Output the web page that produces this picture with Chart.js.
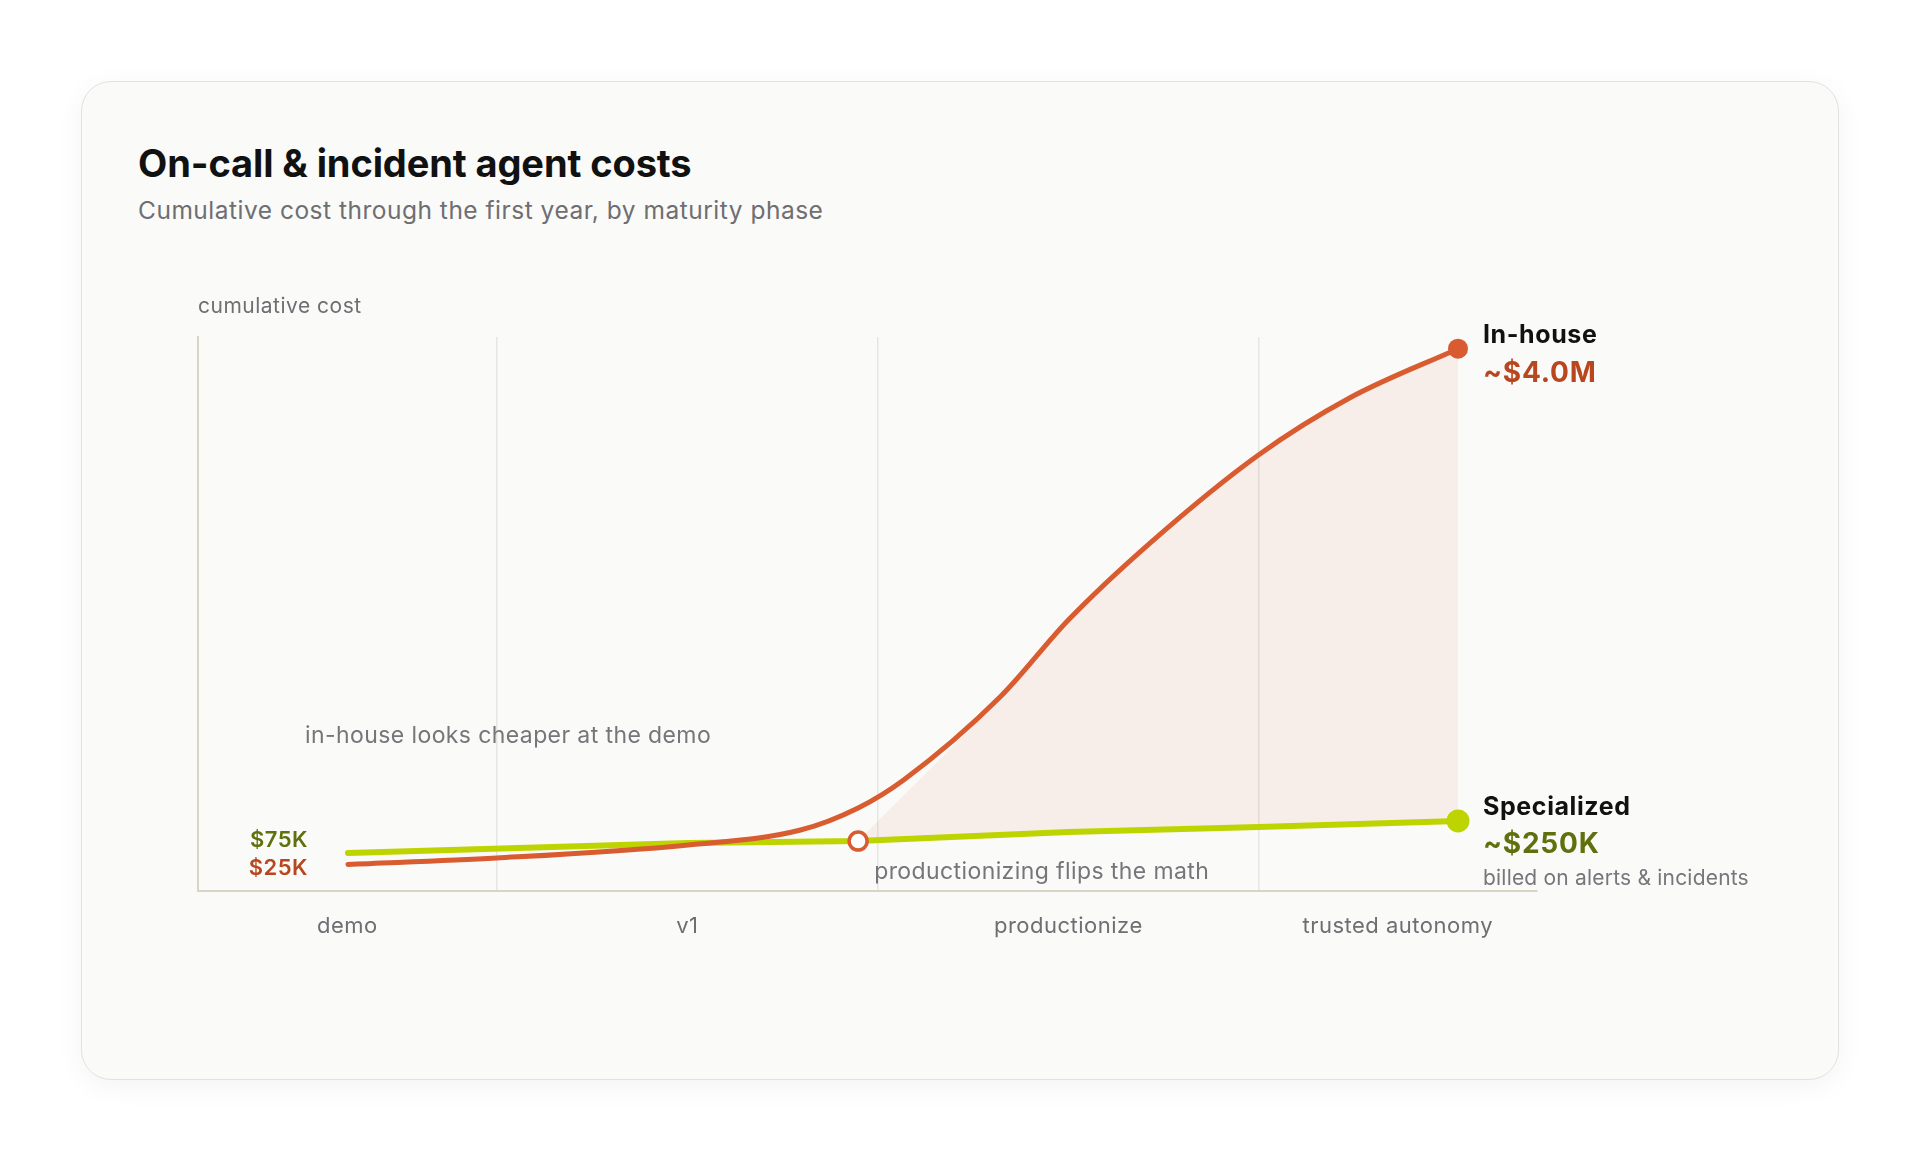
<!DOCTYPE html>
<html>
<head>
<meta charset="utf-8">
<script src="https://cdn.jsdelivr.net/npm/chart.js@4.4.1/dist/chart.umd.min.js"></script>
<style>
  html, body { margin: 0; padding: 0; background: #fff; }
  body { width: 1920px; height: 1160px; position: relative; overflow: hidden; font-family: Inter, "Noto Sans", sans-serif; }
  .card { position: absolute; left: 81px; top: 81px; width: 1758px; height: 999px; box-sizing: border-box;
          background: #fafaf8; border: 1.5px solid #e3e2df; border-radius: 30px; box-shadow: 0 6px 28px rgba(0,0,0,0.05); }
  h1 { position: absolute; left: 138px; top: 144px; margin: 0; font-size: 38px; line-height: 1; font-weight: 700; color: #111; letter-spacing: -0.1px; }
  .sub { position: absolute; left: 138px; top: 198px; margin: 0; font-size: 24.5px; line-height: 1; color: #6e6e73; letter-spacing: 0.5px; }
  canvas { position: absolute; left: 0; top: 0; }
</style>
</head>
<body>
<div class="card"></div>
<h1>On-call &amp; incident agent costs</h1>
<p class="sub">Cumulative cost through the first year, by maturity phase</p>
<canvas id="chart" width="1920" height="1160"></canvas>
<script>
// phases along the year (x in % of the year axis)
const phases = ['demo', 'v1', 'productionize', 'trusted autonomy'];
const phaseEdges = [0, 22.3, 50.8, 79.2, 100];

// cumulative cost, $K
const inHouseX = [11.2, 22.3, 36.6, 45.0, 49.3, 52.7, 59.9, 65.0, 71.1, 79.2, 86.0, 94.1];
const inHouseCost = [25, 74, 175, 290, 460, 676, 1315, 1909, 2502, 3181, 3620, 4000];
const specializedX = [11.2, 36.6, 49.3, 65.0, 79.2, 94.1];
const specializedCost = [113, 190, 205, 275, 313, 360];
const breakevenX = 49.3;
const breakevenCost = 205;
const gapFrom = 6; // in-house point where the gap area joins the curve

const startLabels = ['$75K', '$25K'];
const seriesNames = ['In-house', 'Specialized'];
const totalLabels = ['~$4.0M', '~$250K'];
const billingNote = 'billed on alerts & incidents';
const notes = [
  { text: 'in-house looks cheaper at the demo', x: 8.0, y: 960 },
  { text: 'productionizing flips the math', x: 50.5, y: -88 }
];

const RED = '#d95b30';
const RED_TEXT = '#b8461e';
const GREEN = '#bed400';
const OLIVE = '#5f700c';
const GRAY = '#6e6e73';

const pts = (xs, ys) => xs.map((x, i) => ({ x: x, y: ys[i] }));
const inHouse = pts(inHouseX, inHouseCost);
const specialized = pts(specializedX, specializedCost);
const gap = [{ x: breakevenX, y: breakevenCost }].concat(inHouse.slice(gapFrom));

// ticks: labels at phase centres, grid lines at phase edges
const tickList = [];
phases.forEach((p, i) => {
  tickList.push({ value: (phaseEdges[i] + phaseEdges[i + 1]) / 2, label: p, edge: false });
  if (i < phases.length - 1) tickList.push({ value: phaseEdges[i + 1], label: '', edge: true });
});

const lastDot = r => ctx => ctx.dataIndex === ctx.dataset.data.length - 1 ? r : 0;

const annotate = {
  id: 'annotate',
  beforeDraw(chart) {
    chart.ctx.letterSpacing = '0.5px';
  },
  afterDatasetsDraw(chart) {
    const { ctx, chartArea, scales: { x, y } } = chart;
    const px = v => x.getPixelForValue(v);
    const py = v => y.getPixelForValue(v);
    const text = (t, tx, ty, font, color, align, spacing) => {
      ctx.font = font;
      ctx.fillStyle = color;
      ctx.textAlign = align || 'left';
      ctx.textBaseline = 'alphabetic';
      ctx.letterSpacing = spacing || '0px';
      ctx.fillText(t, tx, ty);
    };
    ctx.save();
    text('cumulative cost', chartArea.left, chartArea.top - 24, '400 21px Inter', GRAY, 'left', '0.5px');

    text(startLabels[0], px(specializedX[0]) - 40, py(specializedCost[0]) - 6, '600 22px Inter', OLIVE, 'right', '0.5px');
    text(startLabels[1], px(inHouseX[0]) - 40, py(inHouseCost[0]) + 11, '600 22px Inter', RED_TEXT, 'right', '0.5px');

    const ex = px(inHouseX[inHouseX.length - 1]) + 25;
    const ry = py(inHouseCost[inHouseCost.length - 1]);
    const gy = py(specializedCost[specializedCost.length - 1]);
    text(seriesNames[0], ex, ry - 6, '700 25px Inter', '#111', 'left', '0.6px');
    text(totalLabels[0], ex, ry + 33, '700 28px Inter', RED_TEXT, 'left', '0.8px');
    text(seriesNames[1], ex, gy - 6, '700 25px Inter', '#111', 'left', '0.6px');
    text(totalLabels[1], ex, gy + 32, '700 28px Inter', OLIVE, 'left', '0.8px');
    text(billingNote, ex, gy + 64, '400 21px Inter', '#76767b', 'left', '0.2px');

    notes.forEach(n => text(n.text, px(n.x), py(n.y), '400 23px Inter', '#76767a', 'left', '0.4px'));
    ctx.restore();
  },
  afterDraw(chart) {
    chart.ctx.letterSpacing = '0px';
  }
};

new Chart(document.getElementById('chart'), {
  type: 'line',
  data: {
    datasets: [
      {
        label: 'In-house', data: inHouse, order: 1,
        borderColor: RED, borderWidth: 5, borderCapStyle: 'round', borderJoinStyle: 'round',
        cubicInterpolationMode: 'monotone', tension: 0.4, fill: false, clip: false,
        pointRadius: lastDot(10), pointHoverRadius: lastDot(10), pointBorderWidth: 0, pointBackgroundColor: RED
      },
      {
        label: 'Specialized', data: specialized, order: 2,
        borderColor: GREEN, borderWidth: 6, borderCapStyle: 'round', borderJoinStyle: 'round',
        tension: 0, fill: false, clip: false,
        pointRadius: lastDot(11.5), pointHoverRadius: lastDot(11.5), pointBorderWidth: 0, pointBackgroundColor: GREEN
      },
      {
        label: 'gap', data: gap, order: 3,
        borderWidth: 0, borderColor: 'rgba(0,0,0,0)', pointRadius: 0, pointHoverRadius: 0,
        cubicInterpolationMode: 'monotone', tension: 0.4,
        fill: 1, backgroundColor: 'rgba(217, 91, 48, 0.07)'
      },
      {
        label: 'breakeven', data: [{ x: breakevenX, y: breakevenCost }], order: 0,
        showLine: false, clip: false,
        pointRadius: 9, pointHoverRadius: 9, pointBorderWidth: 3.5,
        pointBorderColor: RED, pointBackgroundColor: '#ffffff'
      }
    ]
  },
  options: {
    responsive: false,
    devicePixelRatio: 1,
    animation: false,
    events: [],
    layout: { padding: { left: 198, right: 383, top: 337, bottom: 219 } },
    plugins: { legend: { display: false }, tooltip: { enabled: false } },
    scales: {
      x: {
        type: 'linear', min: 0, max: 100,
        afterBuildTicks: s => { s.ticks = tickList.map(t => ({ value: t.value })); },
        afterFit: s => { s.height = 50; },
        ticks: {
          autoSkip: false, maxRotation: 0, padding: 22, color: GRAY,
          font: { family: 'Inter', size: 22 },
          callback: (v, i) => tickList[i].label
        },
        grid: {
          drawTicks: false, lineWidth: 1.5,
          color: c => (tickList[c.index] && tickList[c.index].edge) ? '#e6e5e1' : 'rgba(0,0,0,0)'
        },
        border: { color: '#d8d5c7', width: 2 }
      },
      y: {
        type: 'linear', min: -180, max: 4090,
        afterFit: s => { s.width = 0; },
        ticks: { display: false },
        grid: { display: false },
        border: { color: '#d8d5c7', width: 2 }
      }
    }
  },
  plugins: [annotate]
});
</script>
</body>
</html>
